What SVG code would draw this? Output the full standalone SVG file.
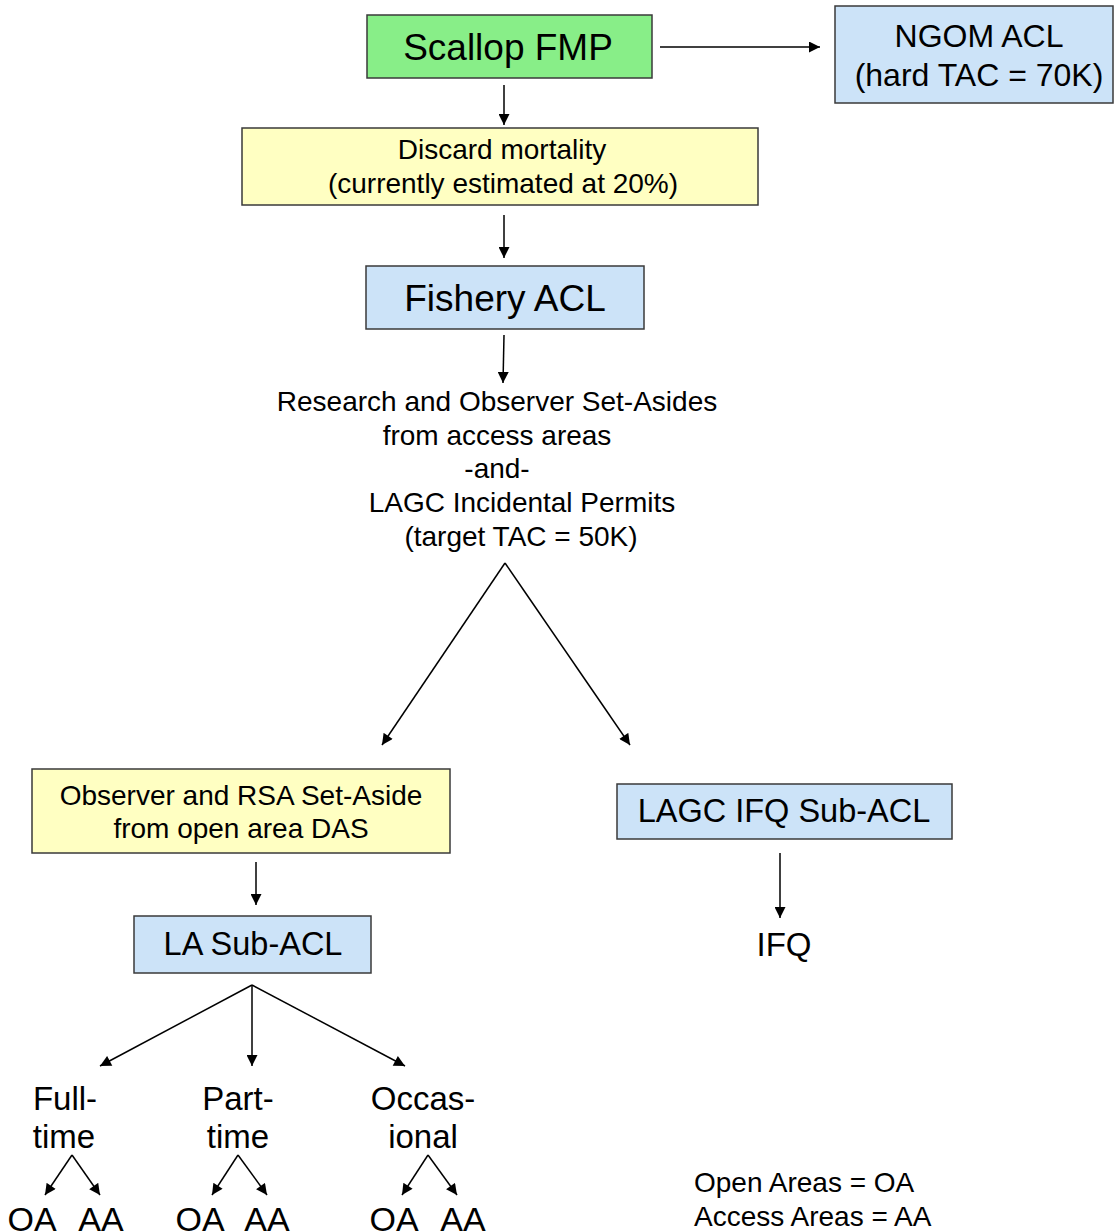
<svg xmlns="http://www.w3.org/2000/svg" width="1115" height="1232" viewBox="0 0 1115 1232">
<style>
text{font-family:"Liberation Sans",Arial,sans-serif;fill:#000;text-anchor:middle}
text.l{text-anchor:start}
.box{stroke:#3a3a3a;stroke-width:1.5}
.g{fill:#88ee88}.b{fill:#cce3f8}.y{fill:#ffffc2}
.c{stroke:#000;stroke-width:1.5;fill:none}
</style>
<defs>
<marker id="ahl" viewBox="0 0 10 10" refX="10" refY="5" markerWidth="12" markerHeight="11" markerUnits="userSpaceOnUse" orient="auto">
<path d="M0,0 L10,5 L0,10 z" fill="#000"/>
</marker>
</defs>
<g id="connectors">
<line class="c" x1="660" y1="47" x2="820" y2="47" marker-end="url(#ahl)"/>
<line class="c" x1="504" y1="85" x2="504" y2="125" marker-end="url(#ahl)"/>
<line class="c" x1="504" y1="215" x2="504" y2="258" marker-end="url(#ahl)"/>
<line class="c" x1="504" y1="335" x2="503" y2="383" marker-end="url(#ahl)"/>
<line class="c" x1="505" y1="563" x2="382" y2="745" marker-end="url(#ahl)"/>
<line class="c" x1="505" y1="563" x2="630" y2="745" marker-end="url(#ahl)"/>
<line class="c" x1="256" y1="862" x2="256" y2="905" marker-end="url(#ahl)"/>
<line class="c" x1="780" y1="853" x2="780" y2="918" marker-end="url(#ahl)"/>
<line class="c" x1="252" y1="985" x2="100" y2="1066" marker-end="url(#ahl)"/>
<line class="c" x1="252" y1="985" x2="252" y2="1066" marker-end="url(#ahl)"/>
<line class="c" x1="252" y1="985" x2="405" y2="1066" marker-end="url(#ahl)"/>
<line class="c" x1="72" y1="1155" x2="45" y2="1195" marker-end="url(#ahl)"/>
<line class="c" x1="72" y1="1155" x2="100" y2="1195" marker-end="url(#ahl)"/>
<line class="c" x1="238" y1="1155" x2="212" y2="1195" marker-end="url(#ahl)"/>
<line class="c" x1="238" y1="1155" x2="267" y2="1195" marker-end="url(#ahl)"/>
<line class="c" x1="428" y1="1155" x2="402" y2="1195" marker-end="url(#ahl)"/>
<line class="c" x1="428" y1="1155" x2="457" y2="1195" marker-end="url(#ahl)"/>
</g>
<g id="scallop-fmp">
<rect class="box g" x="367" y="15" width="285" height="63"/>
<text x="508" y="60" font-size="37">Scallop FMP</text>
</g>
<g id="ngom-acl">
<rect class="box b" x="835" y="6" width="278" height="97"/>
<text x="979" y="47" font-size="32">NGOM ACL</text>
<text x="979" y="86" font-size="32">(hard TAC = 70K)</text>
</g>
<g id="discard-mortality">
<rect class="box y" x="242" y="128" width="516" height="77"/>
<text x="502" y="159" font-size="28">Discard mortality</text>
<text x="503" y="193" font-size="28">(currently estimated at 20%)</text>
</g>
<g id="fishery-acl">
<rect class="box b" x="366" y="266" width="278" height="63"/>
<text x="505" y="311" font-size="37">Fishery ACL</text>
</g>
<g id="set-asides">
<text x="497" y="411" font-size="28">Research and Observer Set-Asides</text>
<text x="497" y="445" font-size="28">from access areas</text>
<text x="497" y="478" font-size="28">-and-</text>
<text x="522" y="512" font-size="28">LAGC Incidental Permits</text>
<text x="521" y="546" font-size="28">(target TAC = 50K)</text>
</g>
<g id="observer-rsa">
<rect class="box y" x="32" y="769" width="418" height="84"/>
<text x="241" y="805" font-size="28">Observer and RSA Set-Aside</text>
<text x="241" y="838" font-size="28">from open area DAS</text>
</g>
<g id="la-sub-acl">
<rect class="box b" x="134" y="916" width="237" height="57"/>
<text x="253" y="955" font-size="32.5">LA Sub-ACL</text>
</g>
<g id="lagc-ifq-sub-acl">
<rect class="box b" x="617" y="784" width="335" height="55"/>
<text x="784" y="822" font-size="32.5">LAGC IFQ Sub-ACL</text>
</g>
<g id="ifq"><text x="784" y="956" font-size="33">IFQ</text></g>
<g id="full-time">
<text x="65" y="1110" font-size="33">Full-</text>
<text x="64" y="1148" font-size="33">time</text>
</g>
<g id="part-time">
<text x="238" y="1110" font-size="33">Part-</text>
<text x="238" y="1148" font-size="33">time</text>
</g>
<g id="occasional">
<text x="423" y="1110" font-size="33">Occas-</text>
<text x="423" y="1148" font-size="33">ional</text>
</g>
<g id="leaves">
<text x="32" y="1231" font-size="34">OA</text>
<text x="101" y="1231" font-size="34">AA</text>
<text x="200" y="1231" font-size="34">OA</text>
<text x="267" y="1231" font-size="34">AA</text>
<text x="394" y="1231" font-size="34">OA</text>
<text x="463" y="1231" font-size="34">AA</text>
</g>
<g id="legend">
<text class="l" x="694" y="1192" font-size="28">Open Areas = OA</text>
<text class="l" x="694" y="1226" font-size="28">Access Areas = AA</text>
</g>
</svg>
